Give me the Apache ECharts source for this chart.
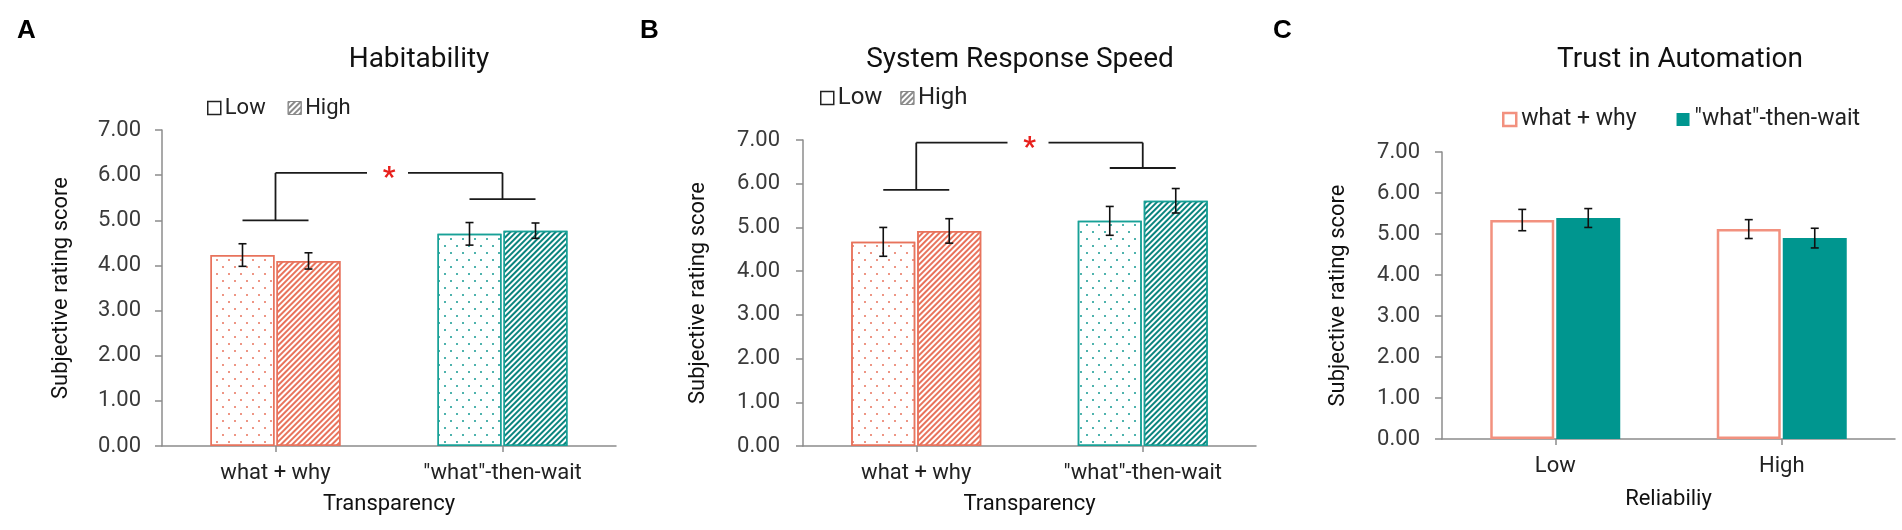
<!DOCTYPE html>
<html>
<head>
<meta charset="utf-8">
<script src="https://cdn.jsdelivr.net/npm/echarts@6/dist/echarts.min.js"></script>
<style>html,body{margin:0;padding:0;background:#fff}#c{width:1902px;height:530px}</style>
</head>
<body>
<div id="c"></div>
<script>
// ---------- data ----------
const transparencyCats = ['what + why', '"what"-then-wait'];
const reliabilityCats = ['Low', 'High'];

const A_low = [4.23, 4.70];
const A_high = [4.10, 4.77];
const A_lowErr = [0.25, 0.25];
const A_highErr = [0.18, 0.17];
const A_bracketLevels = [5.00, 5.47];
const A_bracketTop = 6.05;

const B_low = [4.67, 5.15];
const B_high = [4.92, 5.61];
const B_lowErr = [0.33, 0.33];
const B_highErr = [0.28, 0.28];
const B_bracketLevels = [5.86, 6.36];
const B_bracketTop = 6.94;

const C_whatWhy = [5.34, 5.12];
const C_whatThenWait = [5.39, 4.90];
const C_whatWhyErr = [0.26, 0.23];
const C_whatThenWaitErr = [0.23, 0.24];

const yMin = 0, yMax = 7, yStep = 1;

// ---------- style ----------
const FONT = 'Roboto';
const SALMON = '#E8735C';
const TEAL_DOT = '#139A92';
const TEAL_HATCH = '#0A847E';
const TEAL_BORDER = '#18A197';
const C_SALMON = '#F2917F';
const C_TEAL = '#00968F';
const BAR_W = 64, BAR_GAP = 2;
const OFF = (BAR_W + BAR_GAP) / 2;

function dotDecal(color) {
  return { symbol: 'circle', symbolSize: 1, color: color,
    dashArrayX: [[2, 10], [0, 6, 2, 4]], dashArrayY: [2, 4.7], rotation: 0 };
}
function hatchDecal(color) {
  return { symbol: 'rect', symbolSize: 1, color: color,
    dashArrayX: [1, 0], dashArrayY: [1.7, 1.9], rotation: -Math.PI / 4 };
}

function errSeries(name, grid, vals, errs, sign) {
  return {
    type: 'custom', name: name, xAxisIndex: grid, yAxisIndex: grid, z: 5,
    silent: true, legendHoverLink: false,
    encode: { x: 0, y: 1 },
    data: vals.map((v, i) => [i, v, errs[i]]),
    renderItem: function (params, api) {
      const i = api.value(0), v = api.value(1), e = api.value(2);
      const t = api.coord([i, v + e]), b = api.coord([i, v - e]);
      const x = t[0] + sign * OFF;
      const st = { stroke: '#111', lineWidth: 1.6 };
      return { type: 'group', children: [
        { type: 'line', shape: { x1: x, y1: t[1], x2: x, y2: b[1] }, style: st },
        { type: 'line', shape: { x1: x - 4, y1: t[1], x2: x + 4, y2: t[1] }, style: st },
        { type: 'line', shape: { x1: x - 4, y1: b[1], x2: x + 4, y2: b[1] }, style: st }
      ] };
    }
  };
}

function bracketSeries(grid, levels, top) {
  return {
    type: 'custom', name: 'sig' + grid, xAxisIndex: grid, yAxisIndex: grid, z: 5,
    silent: true, legendHoverLink: false,
    encode: { x: 0, y: 1 },
    data: levels.map((l, i) => [i, l, top]),
    renderItem: function (params, api) {
      const i = api.value(0), l = api.value(1), tp = api.value(2);
      const p = api.coord([i, l]), q = api.coord([i, tp]);
      const st = { stroke: '#1a1a1a', lineWidth: 1.8 };
      const children = [
        { type: 'line', shape: { x1: p[0] - 33, y1: p[1], x2: p[0] + 33, y2: p[1] }, style: st },
        { type: 'line', shape: { x1: p[0], y1: p[1], x2: q[0], y2: q[1] }, style: st }
      ];
      if (i === 0) {
        const r = api.coord([1, tp]);
        const mid = (q[0] + r[0]) / 2;
        children.push({ type: 'line', shape: { x1: q[0], y1: q[1], x2: mid - 22, y2: q[1] }, style: st });
        children.push({ type: 'line', shape: { x1: mid + 19, y1: q[1], x2: r[0], y2: q[1] }, style: st });
        children.push({ type: 'text', style: { x: mid, y: q[1] + 6, text: '*', fill: '#E8201C',
          font: 'bold 28px ' + FONT, align: 'center', verticalAlign: 'middle' } });
      }
      return { type: 'group', children: children };
    }
  };
}

function yAxis(grid, nameGap, labelMargin) {
  return {
    gridIndex: grid, type: 'value', min: yMin, max: yMax, interval: yStep,
    name: 'Subjective rating score', nameLocation: 'middle', nameGap: nameGap,
    nameTextStyle: { fontSize: 22, color: '#111', fontFamily: FONT },
    axisLine: { show: true, lineStyle: { color: '#8c8c8c', width: 1.5 } },
    axisTick: { show: true, length: 7, lineStyle: { color: '#8c8c8c', width: 1.5 } },
    splitLine: { show: false },
    axisLabel: { formatter: v => v.toFixed(2), fontSize: 22, color: '#3a3a3a', fontFamily: FONT, margin: labelMargin }
  };
}
function xAxis(grid, cats, name, nameGap) {
  return {
    gridIndex: grid, type: 'category', data: cats,
    name: name, nameLocation: 'middle', nameGap: nameGap,
    nameTextStyle: { fontSize: 22, color: '#111', fontFamily: FONT },
    axisLine: { show: true, lineStyle: { color: '#8c8c8c', width: 1.5 } },
    axisTick: { show: true, alignWithLabel: true, length: 6, lineStyle: { color: '#8c8c8c', width: 1.5 } },
    axisLabel: { fontSize: 22, color: '#222', fontFamily: FONT, margin: 16 }
  };
}

const abColors = [SALMON, TEAL_DOT];
const abHatch = [SALMON, TEAL_HATCH];
const abBorder = [SALMON, TEAL_BORDER];

function lowBar(grid, vals) {
  return {
    type: 'bar', name: 'Low', xAxisIndex: grid, yAxisIndex: grid,
    barWidth: BAR_W, barGap: (BAR_GAP / BAR_W * 100) + '%', z: 2,
    itemStyle: { color: '#fff', borderColor: '#222', borderWidth: 1.5 },
    data: vals.map((v, i) => ({ value: v, itemStyle: { color: '#fff', borderColor: abBorder[i], borderWidth: 1.5, decal: dotDecal(abColors[i]) } }))
  };
}
function highBar(grid, vals) {
  return {
    type: 'bar', name: 'High', xAxisIndex: grid, yAxisIndex: grid,
    barWidth: BAR_W, barGap: (BAR_GAP / BAR_W * 100) + '%', z: 2,
    itemStyle: { color: '#fff', borderColor: '#888', borderWidth: 1.5 },
    data: vals.map((v, i) => ({ value: v, itemStyle: { color: '#fff', borderColor: abBorder[i], borderWidth: 1.5, decal: hatchDecal(abHatch[i]) } }))
  };
}

const legendAB = (left, top, fs, gap) => ({
  left: left, top: top, padding: 0, itemWidth: 13, itemHeight: 13, itemGap: gap,
  selectedMode: false,
  textStyle: { fontSize: fs, color: '#222', fontFamily: FONT, padding: [0, 0, 0, -1] },
  data: [
    { name: 'Low', icon: 'rect', itemStyle: { color: '#fff', borderColor: '#222', borderWidth: 1.5, decal: 'none' } },
    { name: 'High', icon: 'rect', itemStyle: { color: '#fff', borderColor: '#8a8a8a', borderWidth: 1,
      decal: { symbol: 'rect', symbolSize: 1, color: '#8a8a8a', dashArrayX: [1, 0], dashArrayY: [1.5, 2], rotation: -Math.PI / 4 } } }
  ]
});

const option = {
  animation: false,
  textStyle: { fontFamily: FONT },
  title: [
    { text: 'A', left: 17, top: 18, padding: 0, textStyle: { fontSize: 26, fontWeight: 'bold', color: '#000', fontFamily: 'Liberation Sans' } },
    { text: 'B', left: 640, top: 18, padding: 0, textStyle: { fontSize: 26, fontWeight: 'bold', color: '#000', fontFamily: 'Liberation Sans' } },
    { text: 'C', left: 1273, top: 18, padding: 0, textStyle: { fontSize: 26, fontWeight: 'bold', color: '#000', fontFamily: 'Liberation Sans' } },
    { text: 'Habitability', left: 419, top: 46, padding: 0, textAlign: 'center', textStyle: { fontSize: 28, fontWeight: 'normal', color: '#111', fontFamily: FONT } },
    { text: 'System Response Speed', left: 1020, top: 46, padding: 0, textAlign: 'center', textStyle: { fontSize: 28, fontWeight: 'normal', color: '#111', fontFamily: FONT } },
    { text: 'Trust in Automation', left: 1680, top: 46, padding: 0, textAlign: 'center', textStyle: { fontSize: 28, fontWeight: 'normal', color: '#111', fontFamily: FONT } }
  ],
  legend: [
    legendAB(207, 97, 22, 22),
    legendAB(820, 86, 24, 18),
    {
      left: 1502, top: 108, padding: 0, itemWidth: 13, itemHeight: 13, itemGap: 40, selectedMode: false,
      textStyle: { fontSize: 23, color: '#222', fontFamily: FONT },
      data: [
        { name: 'what + why', icon: 'rect', itemStyle: { color: '#fff', borderColor: C_SALMON, borderWidth: 2.5 } },
        { name: '"what"-then-wait', icon: 'rect', itemStyle: { color: C_TEAL } }
      ]
    }
  ],
  grid: [
    { left: 162, top: 130, width: 454, height: 316 },
    { left: 803, top: 140, width: 453, height: 306 },
    { left: 1442, top: 152, width: 453, height: 287 }
  ],
  xAxis: [
    xAxis(0, transparencyCats, 'Transparency', 47),
    xAxis(1, transparencyCats, 'Transparency', 47),
    xAxis(2, reliabilityCats, 'Reliabiliy', 49)
  ],
  yAxis: [yAxis(0, 90, 21), yAxis(1, 94, 23), yAxis(2, 93, 22)],
  series: [
    lowBar(0, A_low), highBar(0, A_high),
    errSeries('errA1', 0, A_low, A_lowErr, -1), errSeries('errA2', 0, A_high, A_highErr, 1),
    bracketSeries(0, A_bracketLevels, A_bracketTop),
    lowBar(1, B_low), highBar(1, B_high),
    errSeries('errB1', 1, B_low, B_lowErr, -1), errSeries('errB2', 1, B_high, B_highErr, 1),
    bracketSeries(1, B_bracketLevels, B_bracketTop),
    {
      type: 'bar', name: 'what + why', xAxisIndex: 2, yAxisIndex: 2, barWidth: BAR_W, barGap: (BAR_GAP / BAR_W * 100) + '%',
      itemStyle: { color: '#fff', borderColor: C_SALMON, borderWidth: 2.5 }, data: C_whatWhy
    },
    {
      type: 'bar', name: '"what"-then-wait', xAxisIndex: 2, yAxisIndex: 2, barWidth: BAR_W, barGap: (BAR_GAP / BAR_W * 100) + '%',
      itemStyle: { color: C_TEAL }, data: C_whatThenWait
    },
    errSeries('errC1', 2, C_whatWhy, C_whatWhyErr, -1), errSeries('errC2', 2, C_whatThenWait, C_whatThenWaitErr, 1)
  ]
};

const chart = echarts.init(document.getElementById('c'), null, { renderer: 'canvas' });
chart.setOption(option);
</script>
</body>
</html>
